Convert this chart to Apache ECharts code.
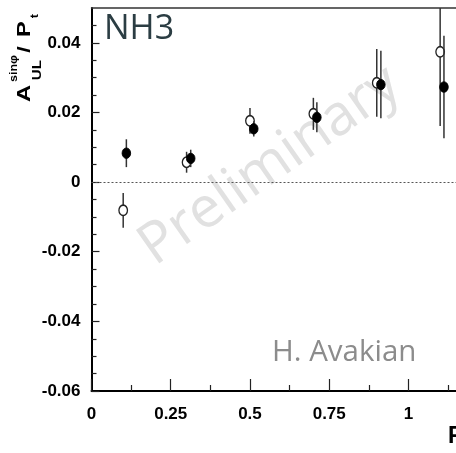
<!DOCTYPE html>
<html>
<head>
<meta charset="utf-8">
<script src="https://cdn.jsdelivr.net/npm/echarts@6/dist/echarts.min.js"></script>
<style>
html,body{margin:0;padding:0;background:#fff;}
#chart{width:456px;height:453px;}
</style>
</head>
<body>
<div id="chart"></div>
<script>
// ---- data ----
const openX   = [0.10, 0.30, 0.50, 0.70, 0.90, 1.10];
const openY   = [-0.0081, 0.0057, 0.0176, 0.0196, 0.0285, 0.0374];
const openErr = [0.0050, 0.0030, 0.0037, 0.0046, 0.0097, 0.0213];

const filledX   = [0.11, 0.313, 0.512, 0.711, 0.913, 1.112];
const filledY   = [0.0083, 0.0068, 0.0153, 0.0186, 0.0280, 0.0273];
const filledErr = [0.0040, 0.0025, 0.0022, 0.0043, 0.0097, 0.0147];

const xMajorTicks = [0, 0.25, 0.5, 0.75, 1];
const xMinorTicks = [0.125, 0.375, 0.625, 0.875, 1.125];
const yMajorTicks = [-0.06, -0.04, -0.02, 0, 0.02, 0.04];
const yMinorTicks = [-0.055, -0.05, -0.045, -0.035, -0.03, -0.025, -0.015, -0.01, -0.005,
                     0.005, 0.01, 0.015, 0.025, 0.03, 0.035, 0.045];
const zeroRef = 0;

const openData = openX.map((x, i) => [x, openY[i], openErr[i]]);
const filledData = filledX.map((x, i) => [x, filledY[i], filledErr[i]]);

function makeRender(filled) {
  return function (params, api) {
    const x = api.value(0), y = api.value(1), e = api.value(2);
    const c = api.coord([x, y]);
    const t = api.coord([x, y + e]);
    const b = api.coord([x, y - e]);
    return {
      type: 'group',
      children: [
        { type: 'line', shape: { x1: c[0], y1: t[1], x2: c[0], y2: b[1] },
          style: { stroke: '#333', lineWidth: 1.5 } },
        { type: 'circle', shape: { cx: 0, cy: 0, r: 5.2 }, x: c[0], y: c[1], scaleX: 0.82,
          style: filled ? { fill: '#000', stroke: '#000', lineWidth: 1 }
                        : { fill: '#fff', stroke: '#222', lineWidth: 1.6 } }
      ]
    };
  };
}

const chart = echarts.init(document.getElementById('chart'), null, { renderer: 'canvas' });
const labelFont = '"Liberation Sans", Arial, sans-serif';

const option = {
  animation: false,
  backgroundColor: '#fff',
  grid: { left: 91.5, right: 0, top: 8, bottom: 62, containLabel: false },
  xAxis: [
    {
      type: 'value', min: 0, max: 1.15, interval: 0.25, position: 'bottom',
      axisLine: { show: true, onZero: false, lineStyle: { color: '#000', width: 2 } },
      axisTick: { show: true, inside: true, length: 12, customValues: xMajorTicks,
                  lineStyle: { color: '#222', width: 1.2 } },
      axisLabel: { show: true, customValues: xMajorTicks, margin: 15,
                   fontFamily: labelFont, fontWeight: 'bold', fontSize: 17, color: '#000',
                   formatter: v => String(v) },
      splitLine: { show: false }
    },
    {
      type: 'value', min: 0, max: 1.15, interval: 0.125, position: 'bottom',
      axisLine: { show: false, onZero: false },
      axisTick: { show: true, inside: true, length: 6, customValues: xMinorTicks,
                  lineStyle: { color: '#222', width: 1.2 } },
      axisLabel: { show: false },
      splitLine: { show: false }
    },
    {
      type: 'value', min: 0, max: 1.15, position: 'top',
      axisLine: { show: true, onZero: false, lineStyle: { color: '#333', width: 1.5 } },
      axisTick: { show: false },
      axisLabel: { show: false },
      splitLine: { show: false }
    }
  ],
  yAxis: [
    {
      type: 'value', min: -0.06, max: 0.05, interval: 0.02, position: 'left',
      axisLine: { show: true, onZero: false, lineStyle: { color: '#000', width: 2 } },
      axisTick: { show: true, inside: true, length: 8, customValues: yMajorTicks,
                  lineStyle: { color: '#222', width: 1.2 } },
      axisLabel: { show: true, customValues: yMajorTicks, margin: 11,
                   fontFamily: labelFont, fontWeight: 'bold', fontSize: 17, color: '#000',
                   formatter: v => String(v) },
      splitLine: { show: false }
    },
    {
      type: 'value', min: -0.06, max: 0.05, interval: 0.005, position: 'left',
      axisLine: { show: false, onZero: false },
      axisTick: { show: true, inside: true, length: 5, customValues: yMinorTicks,
                  lineStyle: { color: '#222', width: 1.2 } },
      axisLabel: { show: false },
      splitLine: { show: false }
    }
  ],
  graphic: [
    { type: 'text', z: 0, x: 270, y: 166, rotation: 35 * Math.PI / 180,
      style: { text: 'Preliminary', fontFamily: '"Open Sans", sans-serif', fontSize: 57,
               fill: '#e1e1e1', align: 'center', verticalAlign: 'middle' } },
    { type: 'text', z: 5, x: 104, y: 29.5,
      style: { text: 'NH3', fontFamily: '"Open Sans", sans-serif', fontSize: 34,
               fill: '#2b3d43', align: 'left', verticalAlign: 'middle' } },
    { type: 'text', z: 5, x: 272, y: 352.5,
      style: { text: 'H. Avakian', fontFamily: '"Open Sans", sans-serif', fontSize: 29.5,
               fill: '#8c8c8c', align: 'left', verticalAlign: 'middle' } },
    { type: 'text', z: 5, x: 448, y: 436.5,
      style: { text: 'P', fontFamily: labelFont, fontSize: 23, fontWeight: 'bold',
               fill: '#000', align: 'left', verticalAlign: 'middle' } },
    { type: 'group', z: 5, x: 32, y: 102, rotation: Math.PI / 2, scaleX: 1.25,
      children: [
        { type: 'text', x: 0, y: -7, style: { text: 'A', fontFamily: labelFont, fontSize: 19,
          fontWeight: 'bold', fill: '#000', align: 'left', verticalAlign: 'middle' } },
        { type: 'text', x: 16, y: -18, style: { text: 'sinφ', fontFamily: labelFont, fontSize: 10,
          fontWeight: 'bold', fill: '#000', align: 'left', verticalAlign: 'middle' } },
        { type: 'text', x: 17.5, y: 5.5, style: { text: 'UL', fontFamily: labelFont, fontSize: 12,
          fontWeight: 'bold', fill: '#000', align: 'left', verticalAlign: 'middle' } },
        { type: 'text', x: 42, y: -7, style: { text: '/', fontFamily: labelFont, fontSize: 19,
          fontWeight: 'bold', fill: '#000', align: 'center', verticalAlign: 'middle' } },
        { type: 'text', x: 52, y: -7, style: { text: 'P', fontFamily: labelFont, fontSize: 19,
          fontWeight: 'bold', fill: '#000', align: 'left', verticalAlign: 'middle' } },
        { type: 'text', x: 67, y: 3.5, style: { text: 't', fontFamily: labelFont, fontSize: 10,
          fontWeight: 'bold', fill: '#000', align: 'left', verticalAlign: 'middle' } }
      ] }
  ],
  series: [
    {
      type: 'custom', name: 'open', xAxisIndex: 0, yAxisIndex: 0, z: 3, clip: true,
      renderItem: makeRender(false), data: openData,
      markLine: {
        silent: true, symbol: ['none', 'none'], label: { show: false },
        lineStyle: { type: [2, 2], color: '#555', width: 1 },
        data: [{ yAxis: zeroRef }]
      }
    },
    {
      type: 'custom', name: 'filled', xAxisIndex: 0, yAxisIndex: 0, z: 4, clip: true,
      renderItem: makeRender(true), data: filledData
    }
  ]
};
chart.setOption(option);
</script>
</body>
</html>
